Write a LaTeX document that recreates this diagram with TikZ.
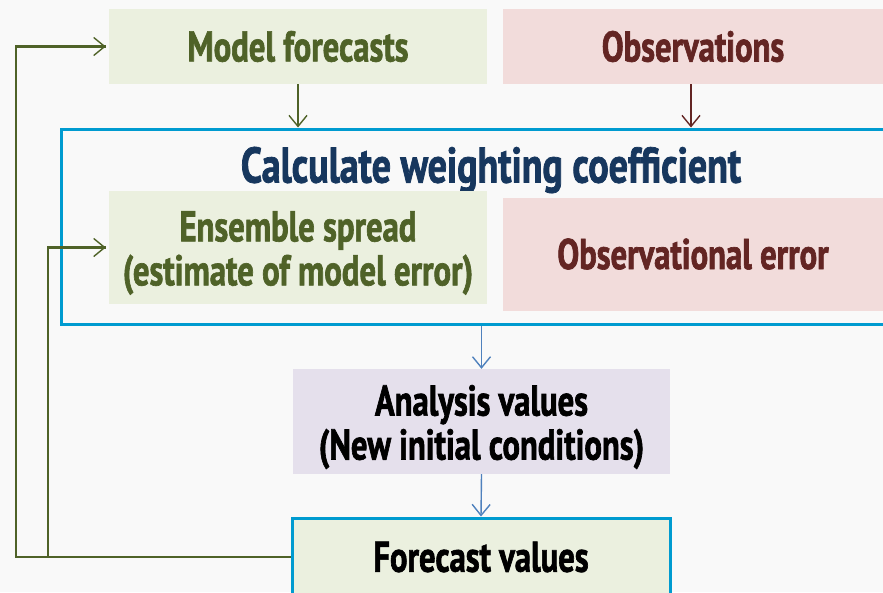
\documentclass[tikz,border=0pt]{standalone}
\usepackage{fontspec}
\setmainfont{PT Sans}[FakeStretch=0.76, BoldFeatures={FakeBold=1.5}]
\usetikzlibrary{arrows.meta}
\definecolor{bgc}{HTML}{F9F9F9}
\definecolor{greenfill}{HTML}{EBF0DF}
\definecolor{pinkfill}{HTML}{F2DCDB}
\definecolor{lavfill}{HTML}{E5E0EC}
\definecolor{olive}{HTML}{4F6228}
\definecolor{maroon}{HTML}{632523}
\definecolor{navy}{HTML}{17375E}
\definecolor{bluebd}{HTML}{009BD0}
\definecolor{arrblue}{HTML}{4F81BD}
\tikzset{
  txt/.style={inner sep=0pt, align=center, font=\bfseries\fontsize{43}{44}\selectfont},
  box/.style={rectangle, inner sep=0pt, align=center, font=\bfseries\fontsize{43}{44}\selectfont},
  greenbox/.style={box, fill=greenfill, text=olive},
  pinkbox/.style={box, fill=pinkfill, text=maroon},
  tip/.style={-{Straight Barb[length=11pt,width=18pt]}, line width=1.4pt},
  fb/.style={draw=olive, line width=2.4pt},
}
\begin{document}
\begin{tikzpicture}[x=1pt,y=-1pt]
\useasboundingbox (0,0) rectangle (883,592);
\fill[bgc] (0,0) rectangle (883,592);
% big box
\node[rectangle, draw=bluebd, line width=3pt, minimum width=834pt, minimum height=195pt, inner sep=0pt] (calc) at (478,226.5) {};
\node[font=\bfseries\fontsize{50}{56}\selectfont, text=navy] (title) at (491,170) {Calculate weighting coefficient};
% top boxes
\node[greenbox, minimum width=378pt, minimum height=75pt] (mf) at (298,46.5) {Model forecasts};
\node[pinkbox, minimum width=380pt, minimum height=75pt] (obs) at (693,46.5) {Observations};
% inner boxes
\node[greenbox, minimum width=378pt, minimum height=113pt] (ens) at (298,247.5) {};
\node[txt, text=olive] (enst) at (298,253) {Ensemble spread\\(estimate of model error)};
\node[pinkbox, minimum width=380pt, minimum height=113pt] (oe) at (693,254) {Observational error};
% analysis
\node[box, fill=lavfill, minimum width=377pt, minimum height=105pt] (an) at (481.5,421.5) {};
\node[txt, text=black] (ant) at (481.5,427) {Analysis values\\(New initial conditions)};
% forecast values
\node[box, fill=greenfill, text=black, draw=bluebd, line width=3pt, minimum width=378pt, minimum height=78pt] (fv) at (481,557) {Forecast values};
% arrows
\coordinate (ox) at (691,0);
\draw[tip, olive] (mf.south) -- (mf.south |- calc.north);
\draw[tip, maroon] (obs.south -| ox) -- (calc.north -| ox);
\draw[tip, arrblue] (an.north |- calc.south) -- (an.north);
\draw[tip, arrblue] (an.south) -- (fv.north);
% feedback
\coordinate (c1) at (16,0);
\coordinate (c2) at (48,0);
\draw[fb] (fv.west) -- (fv.west -| c1) |- ([xshift=-3pt]mf.west);
\draw[fb] (fv.west -| c2) |- ([xshift=-3pt]ens.west);
\draw[tip, olive] ([xshift=-12pt]mf.west) -- ([xshift=-3pt]mf.west);
\draw[tip, olive] ([xshift=-12pt]ens.west) -- ([xshift=-3pt]ens.west);
\end{tikzpicture}
\end{document}
